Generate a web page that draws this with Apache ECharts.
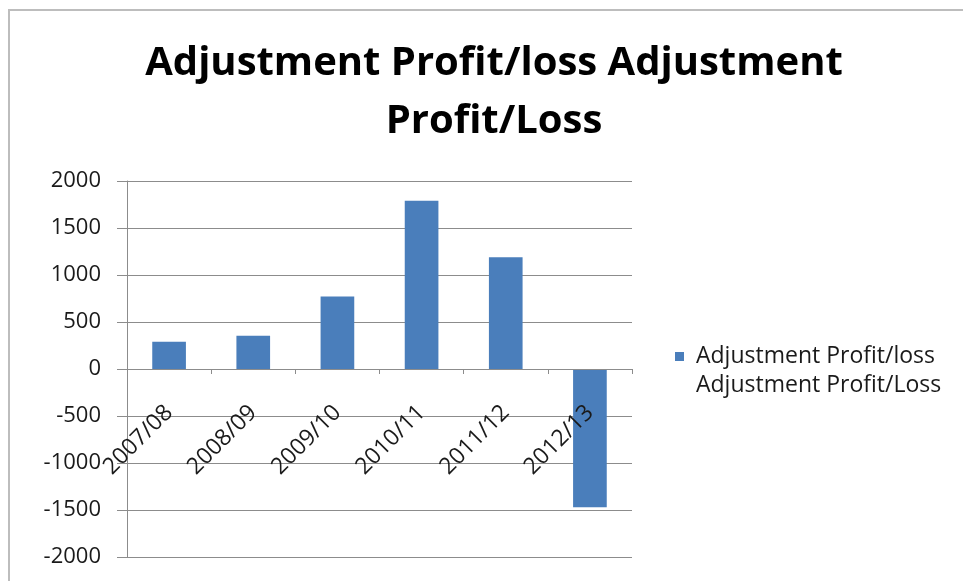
<!DOCTYPE html>
<html>
<head>
<meta charset="utf-8">
<script src="https://cdn.jsdelivr.net/npm/echarts@6/dist/echarts.min.js"></script>
<style>
  html, body { margin: 0; padding: 0; background: #fff; }
  #chart { width: 963px; height: 581px; }
</style>
</head>
<body>
<div id="chart"></div>
<script>
// data
var categories = ['2007/08', '2008/09', '2009/10', '2010/11', '2011/12', '2012/13']
var profitLoss = [290, 354, 770, 1790, 1188, -1471]
var seriesName = 'Adjustment Profit/loss Adjustment Profit/Loss'
var yTicks = { min: -2000, max: 2000, interval: 500 }

var chart = echarts.init(document.getElementById('chart'))
var fontFamily = '"Open Sans", Lato, sans-serif'

// plot area in px, zero line sits half way down
var gridTop = 181
var gridBottom = 557
var zeroOffset = -(gridBottom - gridTop) / 2

chart.setOption({
  animation: false,
  textStyle: { fontFamily: fontFamily },
  title: {
    text: 'Adjustment Profit/loss Adjustment\nProfit/Loss',
    left: 489,
    top: 30,
    textAlign: 'center',
    textStyle: {
      fontFamily: fontFamily,
      fontSize: 40,
      fontWeight: 'bold',
      color: '#000',
      lineHeight: 58
    }
  },
  graphic: [{
    type: 'rect',
    shape: { x: 9, y: 10, width: 1000, height: 600 },
    style: { fill: 'none', stroke: '#bdbdbd', lineWidth: 2 },
    silent: true,
    z: -1
  }],
  legend: {
    left: 670,
    top: 337,
    itemWidth: 9,
    itemHeight: 38,
    itemGap: 0,
    // square at the top of a tall box so it lines up with the first text line
    icon: 'path://M0,0L9,0L9,9L0,9Z M0,38L0.01,38',
    data: [{ name: seriesName }],
    formatter: function() {
      return 'Adjustment Profit/loss\nAdjustment Profit/Loss'
    },
    textStyle: { fontSize: 23, color: '#1a1a1a', lineHeight: 29, fontFamily: fontFamily, padding: [0, 0, 0, 7] }
  },
  grid: {
    left: 127,
    right: 331,
    top: gridTop,
    bottom: 581 - gridBottom,
    containLabel: false,
    outerBoundsMode: 'none'
  },
  xAxis: {
    type: 'category',
    data: categories,
    position: 'bottom',
    offset: zeroOffset,
    z: 5,
    axisLine: { onZero: false, lineStyle: { color: '#8c8c8c', width: 1 } },
    axisTick: { show: true, length: 5, inside: false, lineStyle: { color: '#8c8c8c' } },
    axisLabel: { rotate: 45, fontSize: 23, color: '#1a1a1a', margin: 40, fontFamily: fontFamily }
  },
  yAxis: {
    type: 'value',
    min: yTicks.min,
    max: yTicks.max,
    interval: yTicks.interval,
    axisLine: { show: true, lineStyle: { color: '#8c8c8c' } },
    axisTick: { show: true, length: 10, lineStyle: { color: '#8c8c8c' } },
    axisLabel: {
      fontSize: 22,
      color: '#1a1a1a',
      margin: 26,
      fontFamily: fontFamily,
      formatter: function(v) { return String(v) }
    },
    splitLine: { lineStyle: { color: '#8c8c8c', width: 1 } }
  },
  series: [{
    name: seriesName,
    type: 'bar',
    barWidth: '40%',
    data: profitLoss,
    itemStyle: { color: '#4a7ebb' }
  }]
})
</script>
</body>
</html>
